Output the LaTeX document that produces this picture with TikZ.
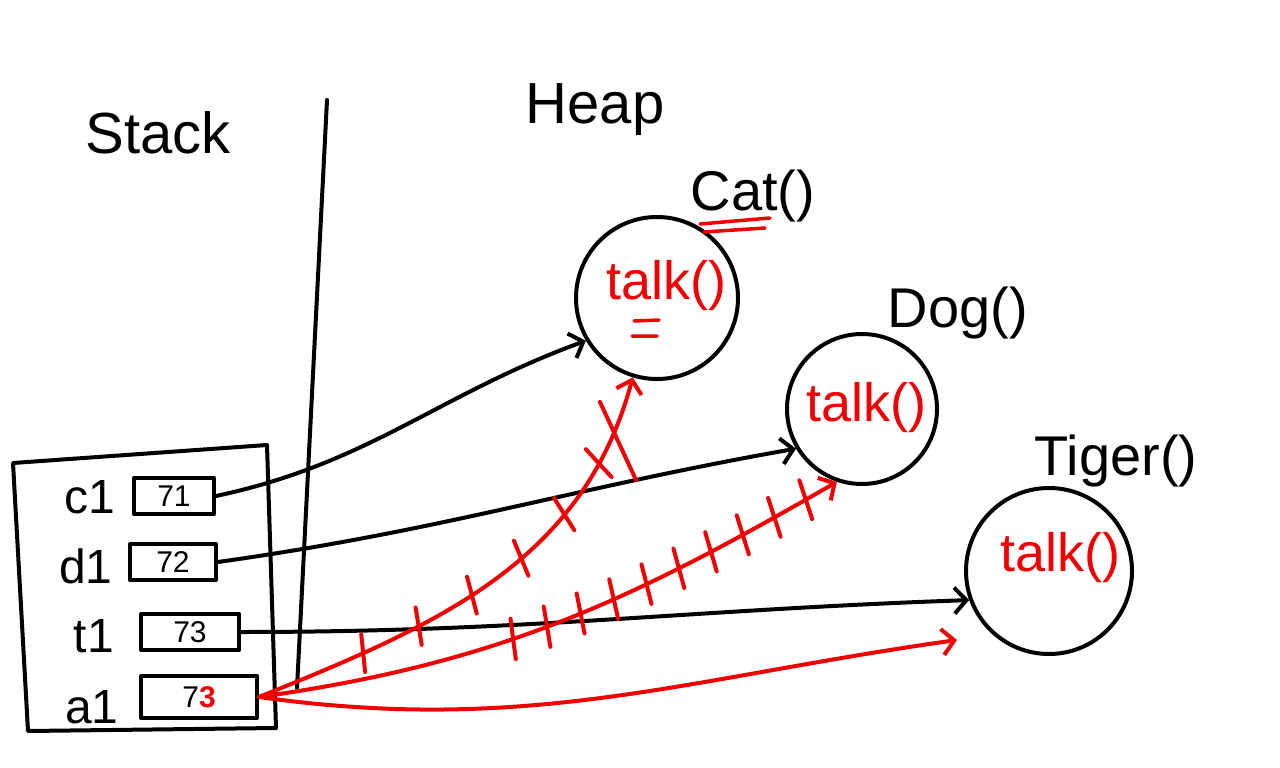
\documentclass[tikz,border=0pt]{standalone}
\usepackage{fontspec}
\setmainfont{Liberation Sans}
\usetikzlibrary{arrows.meta,decorations.markings}
\definecolor{penred}{RGB}{240,0,0}
\tikzset{
  pen/.style={line width=4pt,line cap=round,line join=round},
  title/.style={font=\fontsize{58}{60}\selectfont},
  varname/.style={font=\fontsize{48}{50}\selectfont,anchor=center},
  cell/.style={draw,pen,minimum width=80pt,minimum height=36pt,inner sep=0pt,font=\fontsize{30}{32}\selectfont},
  obj/.style={draw,pen,circle,inner sep=0pt},
  objname/.style={font=\fontsize{56}{58}\selectfont},
  method/.style={text=penred,font=\fontsize{54}{56}\selectfont,inner sep=1pt},
  ptr/.style={pen,-{Straight Barb[length=12pt,width=26pt,line width=4pt]}},
  redptr/.style={ptr,penred},
}
\begin{document}
\begin{tikzpicture}[x=1pt,y=-1pt]
\useasboundingbox (0,0) rectangle (1280,768);
% titles and divider
\node[title] (stacktitle) at (158,133) {Stack};
\node[title] (heaptitle) at (595,110) {Heap};
\coordinate (divtop) at (327,100);
\coordinate (divbot) at (297,688);
\draw[pen] (divtop) -- (divbot);
% stack frame
\coordinate (s1) at (13,463);
\coordinate (s2) at (267,445);
\coordinate (s3) at (276,728);
\coordinate (s4) at (28,731);
\draw[pen] (s1) -- (s2) -- (s3) -- (s4) -- cycle;
% variables
\node[varname] (c1) at (90,497) {c1};
\node[varname] (d1) at (86,566) {d1};
\node[varname] (t1) at (94,636) {t1};
\node[varname] (a1) at (92,707) {a1};
\node[cell] (c1box) at (174,496) {71};
\node[cell,minimum width=86pt] (d1box) at (173,562) {72};
\node[cell,minimum width=98pt] (t1box) at (190,632) {73};
\node[cell,minimum width=116pt,minimum height=42pt] (a1box) at (199,697) {7\textcolor{penred}{\bfseries 3}};
% objects
\node[obj,minimum size=162pt] (cat) at (657,298) {};
\node[method] (cattalk) at (666,286) {talk()};
\coordinate (e1a) at (634,321);
\coordinate (e1b) at (659,320);
\coordinate (e2a) at (632,336);
\coordinate (e2b) at (657,336);
\draw[pen,penred,line width=3.5pt] (e1a) -- (e1b) (e2a) -- (e2b);
\node[objname] (catname) at (753,196) {Cat()};
\coordinate (u1a) at (700,224);
\coordinate (u1b) at (770,218);
\coordinate (u2a) at (704,232);
\coordinate (u2b) at (765,228);
\draw[pen,penred,line width=3.5pt] (u1a) -- (u1b) (u2a) -- (u2b);
\node[obj,minimum size=150pt] (dog) at (862,409) {};
\node[method] (dogtalk) at (866,408) {talk()};
\node[objname] (dogname) at (958,313) {Dog()};
\node[obj,minimum size=166pt] (tiger) at (1049,571) {};
\node[method] (tigertalk) at (1060,558) {talk()};
\node[objname] (tigername) at (1116,461) {Tiger()};
% black references
\draw[ptr] (c1box.east) to[out=12,in=200] (cat.211);
\draw[ptr] (d1box.east) to[out=8,in=190] (dog.211);
\draw[ptr] (t1box.east) to[out=0,in=182] (tiger.200);
% red references (old ones crossed out)
\draw[redptr,postaction={decorate,decoration={markings,
    mark=between positions 0.22 and 0.82 step 0.12 with {\draw[pen,penred,-] (-6pt,-18pt) -- (6pt,18pt);}}}]
  (a1box.east) to[out=22,in=255] (cat.253);
\coordinate (xa) at (600,402);
\coordinate (xb) at (636,480);
\draw[pen,penred] (xa) -- (xb);
\draw[redptr,postaction={decorate,decoration={markings,
    mark=between positions 0.42 and 0.95 step 0.058 with {\draw[pen,penred,-] (-4pt,-20pt) -- (4pt,20pt);}}}]
  (a1box.east) to[out=8,in=210] (dog.251);
\coordinate (tip3) at (957,640);
\draw[redptr] (a1box.east) to[out=-8,in=188] (tip3);
\end{tikzpicture}
\end{document}
